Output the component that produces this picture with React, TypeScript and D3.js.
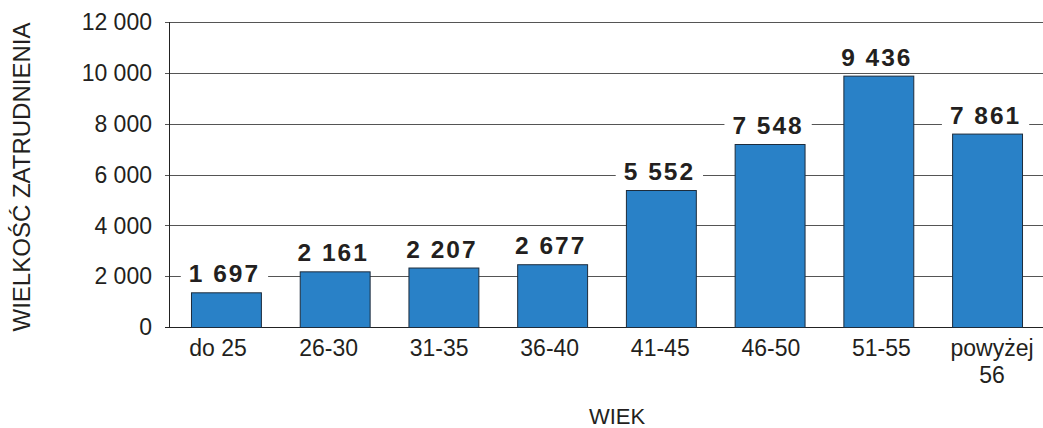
import React from "react";
import * as d3 from "d3";

const categories = ["do 25", "26-30", "31-35", "36-40", "41-45", "46-50", "51-55", "powyżej 56"];
const categoryLines = [["do 25"], ["26-30"], ["31-35"], ["36-40"], ["41-45"], ["46-50"], ["51-55"], ["powyżej", "56"]];
// bar heights as drawn in the picture
const barValues = [1365, 2190, 2340, 2470, 5390, 7200, 9890, 7610];
// data labels as printed
const dataLabels = ["1 697", "2 161", "2 207", "2 677", "5 552", "7 548", "9 436", "7 861"];
const yTicks = [0, 2000, 4000, 6000, 8000, 10000, 12000];
const yTickLabels = ["0", "2 000", "4 000", "6 000", "8 000", "10 000", "12 000"];

const W = 1043;
const H = 428;
const FONT = "'Liberation Sans', Arial, Helvetica, sans-serif";

export default function App() {
  const x = d3.scaleBand<string>().domain(categories).range([170, 1043]).paddingInner(0.357).paddingOuter(0.193);
  const xl = d3.scalePoint<string>().domain(categories).range([218, 992]);
  const y = d3.scaleLinear().domain([0, 12000]).range([327, 22]);
  const axisX = 169;
  const labelSize = 24.5;
  const labelLS = 2;
  const approxW = (s: string) => {
    let w = 0;
    for (const c of s) w += (c === " " ? 0.278 : 0.556) * labelSize + labelLS;
    return w - labelLS;
  };

  return (
    <svg width={W} height={H} style={{ position: "absolute", left: 0, top: 0, background: "#fff" }} fontFamily={FONT}>
      {/* gridlines and ticks */}
      {yTicks.map((t, i) => (
        <g key={t}>
          <line x1={axisX - 4} x2={1043} y1={Math.round(y(t)) + 0.5} y2={Math.round(y(t)) + 0.5} stroke={i === 0 ? "#222" : "#555"} strokeWidth={1} />
          <text x={152} y={y(t)} dy="0.36em" textAnchor="end" fontSize={23} fill="#231f20">{yTickLabels[i]}</text>
        </g>
      ))}
      <line x1={axisX + 0.5} x2={axisX + 0.5} y1={y(12000)} y2={y(0)} stroke="#222" strokeWidth={1} />

      {/* label backgrounds */}
      {categories.map((c, i) => {
        const cx = x(c)! + x.bandwidth() / 2 - 1.5;
        const base = y(barValues[i]) - 10;
        const w = approxW(dataLabels[i]);
        return <rect key={"bg" + c} x={cx - w / 2 - 9} y={base - 22} width={w + 18} height={28} fill="#fff" />;
      })}

      {/* bars */}
      {categories.map((c, i) => (
        <rect
          key={c}
          x={x(c)! + 0.5}
          y={y(barValues[i]) + 0.5}
          width={x.bandwidth()}
          height={y(0) - y(barValues[i])}
          fill="#2981c7"
          stroke="#1d2c3c"
          strokeWidth={1}
        />
      ))}

      {/* data labels */}
      {categories.map((c, i) => (
        <text
          key={"l" + c}
          x={x(c)! + x.bandwidth() / 2 - 1.5}
          y={y(barValues[i]) - 10}
          textAnchor="middle"
          fontSize={labelSize}
          fontWeight="bold"
          letterSpacing={labelLS}
          fill="#231f20"
        >
          {dataLabels[i]}
        </text>
      ))}

      {/* category labels */}
      {categories.map((c, i) => (
        <text key={"c" + c} x={xl(c)} y={356} textAnchor="middle" fontSize={23} fill="#231f20">
          {categoryLines[i].map((ln, j) => (
            <tspan key={j} x={xl(c)} dy={j === 0 ? 0 : 26.7}>{ln}</tspan>
          ))}
        </text>
      ))}

      {/* axis titles */}
      <text x={617} y={424} textAnchor="middle" fontSize={22} fill="#231f20">WIEK</text>
      <text transform="translate(30,177) rotate(-90)" textAnchor="middle" fontSize={24} fill="#231f20">WIELKOŚĆ ZATRUDNIENIA</text>
    </svg>
  );
}
